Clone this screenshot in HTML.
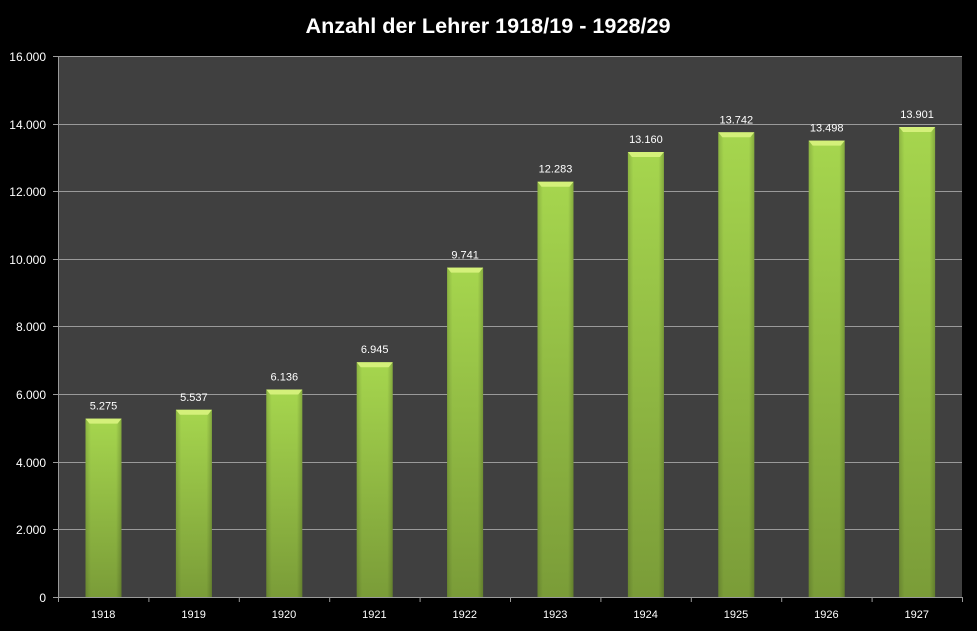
<!DOCTYPE html>
<html><head><meta charset="utf-8"><style>html,body{margin:0;padding:0;background:#000;}svg{display:block}</style></head>
<body>
<svg width="977" height="631" xmlns="http://www.w3.org/2000/svg" font-family="Liberation Sans, sans-serif">
<defs>
<linearGradient id="g" x1="0" y1="0" x2="0" y2="1">
<stop offset="0" stop-color="#a6d64e"/><stop offset="1" stop-color="#7a9c38"/>
</linearGradient>
<linearGradient id="h" x1="0" y1="0" x2="1" y2="0">
<stop offset="0" stop-color="#000" stop-opacity="0.15"/><stop offset="0.15" stop-color="#000" stop-opacity="0"/><stop offset="0.85" stop-color="#000" stop-opacity="0"/><stop offset="1" stop-color="#000" stop-opacity="0.2"/>
</linearGradient>
</defs>
<rect width="977" height="631" fill="#000"/>
<text x="488" y="33" fill="#fff" font-size="21" font-weight="bold" text-anchor="middle" textLength="365" lengthAdjust="spacingAndGlyphs">Anzahl der Lehrer 1918/19  - 1928/29</text>
<rect x="58" y="56" width="904" height="541" fill="#404040"/>
<g stroke="#9a9a9a" stroke-width="1">
<line x1="53" y1="56.5" x2="962" y2="56.5"/>
<line x1="53" y1="124.5" x2="962" y2="124.5"/>
<line x1="53" y1="191.5" x2="962" y2="191.5"/>
<line x1="53" y1="259.5" x2="962" y2="259.5"/>
<line x1="53" y1="326.5" x2="962" y2="326.5"/>
<line x1="53" y1="394.5" x2="962" y2="394.5"/>
<line x1="53" y1="462.5" x2="962" y2="462.5"/>
<line x1="53" y1="529.5" x2="962" y2="529.5"/>
<line x1="53" y1="597.5" x2="962" y2="597.5"/>
<line x1="58.5" y1="56" x2="58.5" y2="602"/>
<line x1="148.9" y1="597" x2="148.9" y2="602"/>
<line x1="239.3" y1="597" x2="239.3" y2="602"/>
<line x1="329.7" y1="597" x2="329.7" y2="602"/>
<line x1="420.1" y1="597" x2="420.1" y2="602"/>
<line x1="510.5" y1="597" x2="510.5" y2="602"/>
<line x1="600.9" y1="597" x2="600.9" y2="602"/>
<line x1="691.3" y1="597" x2="691.3" y2="602"/>
<line x1="781.7" y1="597" x2="781.7" y2="602"/>
<line x1="872.1" y1="597" x2="872.1" y2="602"/>
<line x1="962.5" y1="597" x2="962.5" y2="602"/>
</g>
<g fill="#fff" font-size="12" text-anchor="end">
<text x="46" y="61">16.000</text><text x="46" y="129">14.000</text><text x="46" y="196">12.000</text><text x="46" y="264">10.000</text><text x="46" y="331">8.000</text><text x="46" y="399">6.000</text><text x="46" y="467">4.000</text><text x="46" y="534">2.000</text><text x="46" y="602">0</text>
</g>

<g transform="translate(85.5,418.6)"><rect width="36" height="178.4" fill="url(#g)"/><rect width="36" height="178.4" fill="url(#h)"/><polygon points="0,0 36,0 32,5 4,5" fill="#d4f07a"/></g>
<g transform="translate(175.9,409.8)"><rect width="36" height="187.2" fill="url(#g)"/><rect width="36" height="187.2" fill="url(#h)"/><polygon points="0,0 36,0 32,5 4,5" fill="#d4f07a"/></g>
<g transform="translate(266.3,389.5)"><rect width="36" height="207.5" fill="url(#g)"/><rect width="36" height="207.5" fill="url(#h)"/><polygon points="0,0 36,0 32,5 4,5" fill="#d4f07a"/></g>
<g transform="translate(356.7,362.2)"><rect width="36" height="234.8" fill="url(#g)"/><rect width="36" height="234.8" fill="url(#h)"/><polygon points="0,0 36,0 32,5 4,5" fill="#d4f07a"/></g>
<g transform="translate(447.1,267.6)"><rect width="36" height="329.4" fill="url(#g)"/><rect width="36" height="329.4" fill="url(#h)"/><polygon points="0,0 36,0 32,5 4,5" fill="#d4f07a"/></g>
<g transform="translate(537.5,181.7)"><rect width="36" height="415.3" fill="url(#g)"/><rect width="36" height="415.3" fill="url(#h)"/><polygon points="0,0 36,0 32,5 4,5" fill="#d4f07a"/></g>
<g transform="translate(627.9,152.0)"><rect width="36" height="445.0" fill="url(#g)"/><rect width="36" height="445.0" fill="url(#h)"/><polygon points="0,0 36,0 32,5 4,5" fill="#d4f07a"/></g>
<g transform="translate(718.3,132.3)"><rect width="36" height="464.7" fill="url(#g)"/><rect width="36" height="464.7" fill="url(#h)"/><polygon points="0,0 36,0 32,5 4,5" fill="#d4f07a"/></g>
<g transform="translate(808.7,140.6)"><rect width="36" height="456.4" fill="url(#g)"/><rect width="36" height="456.4" fill="url(#h)"/><polygon points="0,0 36,0 32,5 4,5" fill="#d4f07a"/></g>
<g transform="translate(899.1,127.0)"><rect width="36" height="470.0" fill="url(#g)"/><rect width="36" height="470.0" fill="url(#h)"/><polygon points="0,0 36,0 32,5 4,5" fill="#d4f07a"/></g>

<g fill="#fff" font-size="11" text-anchor="middle">
<text x="103.5" y="409.6">5.275</text>
<text x="193.9" y="400.8">5.537</text>
<text x="284.3" y="380.5">6.136</text>
<text x="374.7" y="353.2">6.945</text>
<text x="465.1" y="258.6">9.741</text>
<text x="555.5" y="172.7">12.283</text>
<text x="645.9" y="143.0">13.160</text>
<text x="736.3" y="123.3">13.742</text>
<text x="826.7" y="131.6">13.498</text>
<text x="917.1" y="118.0">13.901</text>
</g>
<g fill="#fff" font-size="11" text-anchor="middle">
<text x="103.2" y="618">1918</text>
<text x="193.6" y="618">1919</text>
<text x="284" y="618">1920</text>
<text x="374.4" y="618">1921</text>
<text x="464.8" y="618">1922</text>
<text x="555.2" y="618">1923</text>
<text x="645.6" y="618">1924</text>
<text x="736" y="618">1925</text>
<text x="826.4" y="618">1926</text>
<text x="916.8" y="618">1927</text>
</g>
</svg>
</body></html>
